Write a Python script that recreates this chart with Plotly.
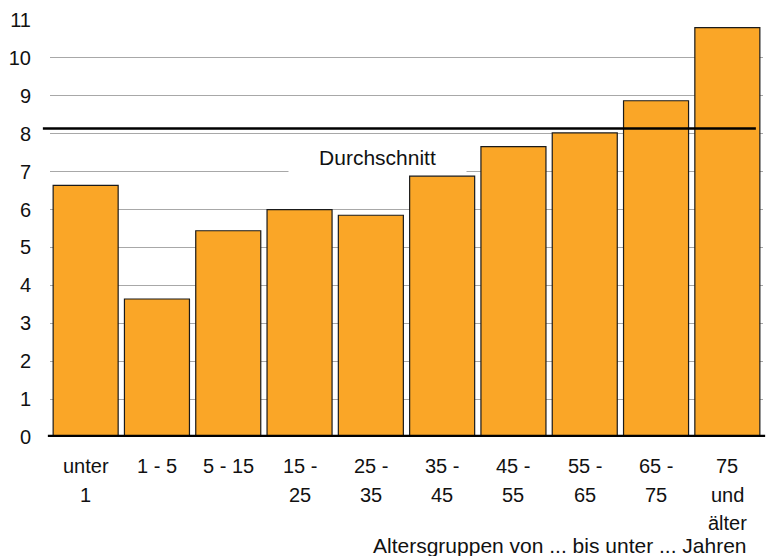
import plotly.graph_objects as go

# Altersgruppen (Jahre) und Werte je Gruppe
gruppen = ["unter<br>1", "1 - 5", "5 - 15", "15 -<br>25", "25 -<br>35",
           "35 -<br>45", "45 -<br>55", "55 -<br>65", "65 -<br>75", "75<br>und<br>älter"]
werte = [6.64, 3.64, 5.44, 6.0, 5.85, 6.88, 7.66, 8.02, 8.87, 10.8]
durchschnitt = 8.14
y_ticks = list(range(0, 12))

FONT = "Liberation Sans, Arial, sans-serif"
x_pos = list(range(len(gruppen)))

fig = go.Figure()
fig.add_trace(go.Bar(
    x=x_pos, y=werte,
    marker=dict(color="#FAA627", line=dict(color="#1a1a1a", width=1.2)),
    hoverinfo="skip",
))

# Durchschnittslinie
fig.add_shape(type="line", xref="paper", yref="y",
              x0=-0.01, x1=0.99, y0=durchschnitt, y1=durchschnitt,
              line=dict(color="black", width=2.5))
# kräftige Grundlinie
fig.add_shape(type="line", xref="paper", yref="y",
              x0=-0.003, x1=1.003, y0=0, y1=0,
              line=dict(color="black", width=4.5))

annotations = [
    dict(text="Durchschnitt", xref="paper", yref="paper", x=0.46, y=0.671,
         xanchor="center", yanchor="middle",
         showarrow=False, font=dict(family=FONT, size=21, color="#111"),
         bgcolor="white", width=177, height=34, borderpad=0),
    dict(text="Altersgruppen von ... bis unter ... Jahren", xref="paper", yref="paper",
         x=1.0, y=0, yshift=-108, xshift=-14, xanchor="right", yanchor="middle",
         showarrow=False, font=dict(family=FONT, size=21, color="#111")),
]
# Achsenbeschriftung der Kategorien, zeilenweise
for i, g in enumerate(gruppen):
    for j, zeile in enumerate(g.split("<br>")):
        annotations.append(dict(
            text=zeile, x=i, xref="x", yref="paper", y=0,
            yshift=-29 - j * 28.5, yanchor="middle", xanchor="center",
            showarrow=False, font=dict(family=FONT, size=20, color="#111")))

fig.update_layout(
    width=770, height=556,
    margin=dict(l=50, r=7, t=20, b=119),
    plot_bgcolor="white", paper_bgcolor="white",
    bargap=0.088, showlegend=False,
    annotations=annotations,
    xaxis=dict(range=[-0.5, 9.5], showticklabels=False, showgrid=False,
               zeroline=False, showline=False, fixedrange=True),
    yaxis=dict(range=[0, 11], tickvals=y_ticks, showgrid=True,
               gridcolor="#A8A8A8", gridwidth=1, zeroline=False, showline=False,
               ticks="outside", ticklen=14, tickcolor="rgba(0,0,0,0)",
               tickfont=dict(family=FONT, size=20, color="#111")),
)

fig.write_html("out.html")
